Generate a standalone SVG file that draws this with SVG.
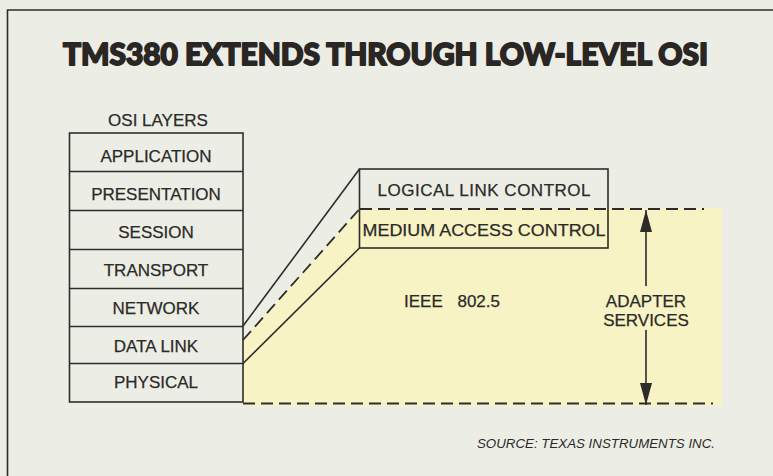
<svg xmlns="http://www.w3.org/2000/svg" width="773" height="476" viewBox="0 0 773 476">
<style>
  .bg { fill: #eceee6; }
  .ln { stroke: #2e2c2a; stroke-width: 1.6; fill: none; }
  .dash { stroke: #2e2c2a; stroke-width: 1.8; fill: none; stroke-dasharray: 12 6; }
  .t { font-family: "Liberation Sans", Arial, sans-serif; font-size: 17px; fill: #2b2a28; text-anchor: middle; stroke: #2b2a28; stroke-width: 0.25; }
  .title { font-family: "Lato", "Roboto", "DejaVu Sans", sans-serif; font-weight: 900; font-size: 31px; fill: #2a2624; stroke: #2a2624; stroke-width: 1.8; stroke-linejoin: round; }
  .src { font-family: "Liberation Sans", Arial, sans-serif; font-style: italic; font-size: 13.4px; fill: #2b2a28; }
</style>
<defs>
  <marker id="ah" viewBox="0 0 22 12" refX="22" refY="6" markerWidth="22" markerHeight="12" markerUnits="userSpaceOnUse" orient="auto">
    <path d="M0,0 L22,6 L0,12 Z" fill="#2e2c2a"/>
  </marker>
</defs>
<rect class="bg" x="0" y="0" width="773" height="476"/>
<!-- frame -->
<path class="ln" d="M7.5,476 V10 H773"/>

<text class="title" x="63" y="65" textLength="645" lengthAdjust="spacingAndGlyphs">TMS380 EXTENDS THROUGH LOW-LEVEL OSI</text>

<!-- yellow adapter area -->
<polygon points="243,340 359,209 722,208 722,406 243,406" fill="#f7f3c4"/>

<g id="osi-stack">
  <text class="t" x="158" y="126">OSI LAYERS</text>
  <rect class="ln" x="69.5" y="133" width="173.5" height="269"/>
  <path class="ln" d="M69.5,171.5 H243 M69.5,210.5 H243 M69.5,249.5 H243 M69.5,288.5 H243 M69.5,326.5 H243 M69.5,363.5 H243"/>
</g>
<g id="application"><text class="t" x="156" y="162">APPLICATION</text></g>
<g id="presentation"><text class="t" x="156" y="200">PRESENTATION</text></g>
<g id="session"><text class="t" x="156" y="238">SESSION</text></g>
<g id="transport"><text class="t" x="156" y="276">TRANSPORT</text></g>
<g id="network"><text class="t" x="156" y="314">NETWORK</text></g>
<g id="data-link"><text class="t" x="156" y="352">DATA LINK</text></g>
<g id="physical"><text class="t" x="156" y="388">PHYSICAL</text></g>

<g id="llc-mac">
  <rect class="ln" x="359.5" y="169" width="248.5" height="79"/>
  <text class="t" x="484" y="196" font-size="17.5" textLength="213" lengthAdjust="spacing">LOGICAL LINK CONTROL</text>
  <text class="t" x="484" y="236" font-size="17.5" textLength="243" lengthAdjust="spacingAndGlyphs">MEDIUM ACCESS CONTROL</text>
</g>

<g id="ieee"><text class="t" x="404" y="306.5" style="text-anchor:start" word-spacing="10" font-size="17.5">IEEE 802.5</text></g>

<g id="adapter-services">
  <text class="t" x="646" y="306.5" font-size="18">ADAPTER</text>
  <text class="t" x="646" y="325.5" font-size="18">SERVICES</text>
</g>

<g id="connectors">
  <line class="ln" x1="243" y1="326" x2="359.5" y2="169"/>
  <line class="dash" x1="243" y1="340" x2="359.5" y2="209"/>
  <line class="ln" x1="243" y1="363.5" x2="359.5" y2="248"/>
  <line class="dash" x1="360" y1="209" x2="704" y2="209"/>
  <line class="dash" x1="243" y1="403.5" x2="713" y2="403.5"/>
  <line class="ln" x1="646" y1="286" x2="646" y2="210" marker-end="url(#ah)"/>
  <line class="ln" x1="646" y1="330" x2="646" y2="405" marker-end="url(#ah)"/>
</g>

<text class="src" x="477" y="448" textLength="238" lengthAdjust="spacingAndGlyphs">SOURCE: TEXAS INSTRUMENTS INC.</text>
</svg>
